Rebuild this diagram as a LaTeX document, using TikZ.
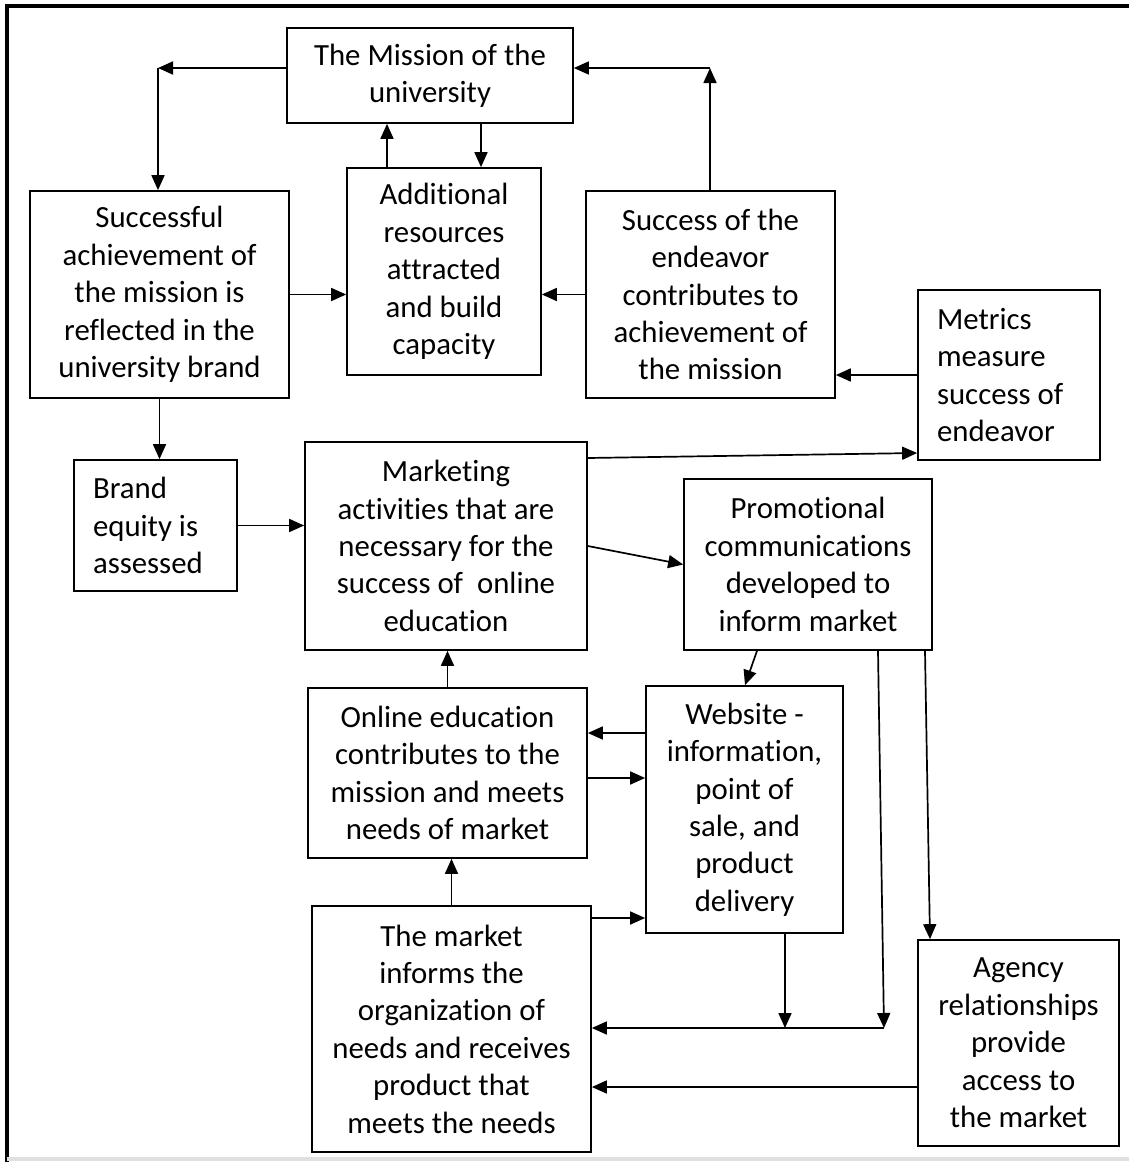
\documentclass[tikz,border=0pt]{standalone}
\usepackage{fontspec}
\setmainfont{Carlito}[Ligatures=NoCommon]
\usetikzlibrary{arrows.meta,positioning}

\tikzset{
  blk/.style={draw, line width=0.85pt, align=center, inner sep=1pt,
    font=\fontsize{15.4}{18.7}\selectfont},
  lblk/.style={blk, align=flush left, inner xsep=9.5pt},
  arr/.style={-{Triangle[length=7.5pt,width=6.5pt]}, line width=0.85pt},
}

\begin{document}
\begin{tikzpicture}[x=0.5pt,y=-0.5pt]
    \useasboundingbox (0,0) rectangle (1129,1162);

    % frame round the figure
    \draw[line width=1.6pt] (7,1162) -- (7,6) -- (1129,6);
    \draw[line width=1.6pt, black!12] (7,1159) -- (1129,1159);

    % top row
    \node[blk, minimum width=143pt, minimum height=47.5pt] (mission) at (430,75.5)
      {The Mission of the\\university};
    \node[blk, minimum width=129.5pt, minimum height=103.5pt] (succ) at (159.5,294.5)
      {Successful\\achievement of\\the mission is\\reflected in the\\university brand};
    \node[blk, minimum width=97pt, minimum height=103.5pt] (addres) at (444,271.5)
      {Additional\\resources\\attracted\\and build\\capacity};
    \node[blk, minimum width=124.5pt, minimum height=103.5pt] (endeavor) at (710.5,294.5)
      {Success of the\\endeavor\\contributes to\\achievement of\\the mission};
    \node[lblk, text width=72pt, minimum height=85pt] (metrics) at (1009,375)
      {Metrics\\measure\\success of\\endeavor};

    % middle row
    \node[lblk, text width=62.5pt, minimum height=65.5pt] (brand) at (155.5,525.5)
      {Brand\\equity is\\assessed};
    \node[blk, minimum width=141pt, minimum height=104pt] (marketing) at (446,546)
      {Marketing\\activities that are\\necessary for the\\success of\ \ online\\education};
    \node[blk, minimum width=124pt, minimum height=85.5pt] (promo) at (808,564.5)
      {Promotional\\communications\\developed to\\inform market};
    \node[blk, minimum width=139.5pt, minimum height=85pt] (online) at (447.5,773)
      {Online education\\contributes to the\\mission and meets\\needs of market};
    \node[blk, minimum width=98.5pt, minimum height=123.5pt] (website) at (744.5,809.5)
      {Website -\\information,\\point of\\sale, and\\product\\delivery};

    % bottom row
    \node[blk, minimum width=139.5pt, minimum height=123pt] (market) at (451.5,1029)
      {The market\\informs the\\organization of\\needs and receives\\product that\\meets the needs};
    \node[blk, minimum width=100.5pt, minimum height=103pt] (agency) at (1018.5,1043)
      {Agency\\relationships\\provide\\access to\\the market};

    % helper points for the connectors
    \coordinate (cTL) at (158,68);
    \coordinate (cTR) at (710,68);
    \coordinate (cBR) at (884,1028);
    \coordinate (xA) at (387,0);
    \coordinate (xB) at (481,0);
    \coordinate (xF) at (878,0);
    \coordinate (xG) at (785,0);
    \coordinate (xH) at (925,0);
    \coordinate (xI) at (930,0);
    \coordinate (xP) at (757,0);
    \coordinate (xQ) at (745,0);
    \coordinate (yD) at (0,458);
    \coordinate (yE) at (0,453);
    \coordinate (yJ) at (0,1087);
    \coordinate (yK) at (0,733);
    \coordinate (yL) at (0,778);
    \coordinate (yM) at (0,918);

    % mission loop
    \draw[arr] (mission.west |- cTL) -- (cTL);
    \draw[arr] (cTL) -- (cTL |- succ.north);
    \draw[arr] (cTR |- endeavor.north) -- (cTR);
    \draw[arr] (cTR) -- (cTR -| mission.east);
    \draw[arr] (xA |- addres.north) -- (xA |- mission.south);
    \draw[arr] (xB |- mission.south) -- (xB |- addres.north);
    \draw[arr] (succ.east) -- (succ.east -| addres.west);
    \draw[arr] (endeavor.west) -- (endeavor.west -| addres.east);
    \draw[arr] (metrics.west) -- (metrics.west -| endeavor.east);

    % brand and marketing
    \draw[arr] (succ.south) -- (succ.south |- brand.north);
    \draw[arr] (brand.east) -- (brand.east -| marketing.west);
    \draw[arr] (marketing.east |- yD) -- (metrics.west |- yE);
    \draw[arr] (marketing.east) -- (promo.west);
    \draw[arr] (xP |- promo.south) -- (xQ |- website.north);
    \draw[arr] (online.north) -- (online.north |- marketing.south);
    \draw[arr] (website.west |- yK) -- (online.east |- yK);
    \draw[arr] (online.east |- yL) -- (website.west |- yL);

    % market side
    \draw[arr] (market.north) -- (market.north |- online.south);
    \draw[arr] (market.east |- yM) -- (website.west |- yM);
    \draw[arr] (xF |- promo.south) -- (cBR);
    \draw[arr] (cBR) -- (cBR -| market.east);
    \draw[arr] (xG |- website.south) -- (xG |- cBR);
    \draw[arr] (xH |- promo.south) -- (xI |- agency.north);
    \draw[arr] (agency.west |- yJ) -- (market.east |- yJ);
\end{tikzpicture}
\end{document}
